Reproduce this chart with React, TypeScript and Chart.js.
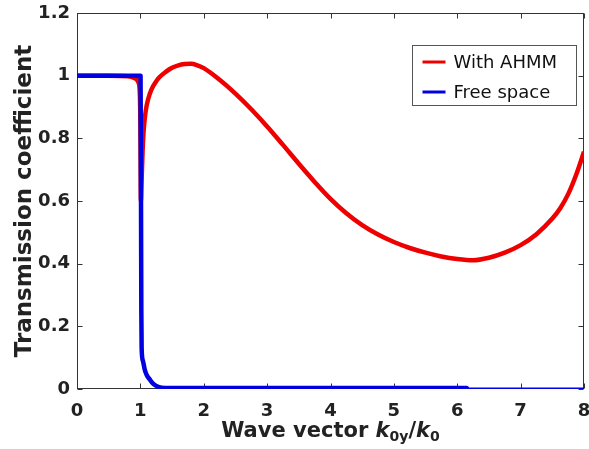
import React, { useEffect, useRef } from 'react';
import { Chart, registerables } from 'chart.js';

Chart.register(...registerables);

// ---- data ----
const seriesLabels = ['With AHMM', 'Free space'];
const seriesColors = ['#ee0000', '#0000e0'];

const kAHMM = [0, 0.5, 0.8, 0.9, 0.95, 0.97, 0.985, 0.993, 0.998, 1.003, 1.008, 1.015, 1.025, 1.035, 1.05, 1.07, 1.1, 1.15, 1.2, 1.25, 1.3, 1.4, 1.5, 1.6, 1.7, 1.8, 1.9, 2.0, 2.25, 2.5, 2.75, 3.0, 3.25, 3.5, 3.75, 4.0, 4.25, 4.5, 4.75, 5.0, 5.25, 5.5, 5.75, 6.0, 6.25, 6.5, 6.75, 7.0, 7.25, 7.5, 7.625, 7.75, 7.875, 8.0];
const tAHMM = [1.0, 1.0, 0.998, 0.993, 0.986, 0.978, 0.965, 0.935, 0.88, 0.75, 0.6, 0.64, 0.7, 0.76, 0.82, 0.865, 0.906, 0.943, 0.966, 0.982, 0.995, 1.012, 1.025, 1.033, 1.037, 1.038, 1.033, 1.024, 0.987, 0.943, 0.893, 0.838, 0.779, 0.719, 0.661, 0.607, 0.561, 0.523, 0.493, 0.469, 0.45, 0.435, 0.423, 0.415, 0.411, 0.419, 0.435, 0.459, 0.494, 0.544, 0.577, 0.622, 0.683, 0.757];

const kFree = [0, 1.003, 1.01, 1.015, 1.02, 1.04, 1.07, 1.1, 1.15, 1.2, 1.28, 1.39, 2.0, 4.0, 6.15, 6.17, 8.0];
const tFree = [1.0, 1.0, 0.6, 0.25, 0.13, 0.09, 0.061, 0.045, 0.03, 0.017, 0.007, 0.003, 0.003, 0.003, 0.003, -0.002, -0.002];

const xTicks = [0, 1, 2, 3, 4, 5, 6, 7, 8];
const yTicks = [0, 0.2, 0.4, 0.6, 0.8, 1, 1.2];
const yTitle = 'Transmission coefficient';

const FONT = '"DejaVu Sans", "Liberation Sans", Arial, sans-serif';

const framePlugin = {
  id: 'frameTicks',
  beforeDatasetsDraw(chart: any) {
    const { ctx, chartArea, scales } = chart;
    const { left, right, top, bottom } = chartArea;
    const L = Math.round(left) + 0.5;
    const R = Math.round(right) - 0.5;
    const T = Math.round(top) + 0.5;
    const B = Math.round(bottom) - 0.5;
    ctx.save();
    ctx.strokeStyle = '#333';
    ctx.lineWidth = 1;
    ctx.strokeRect(L, T, R - L, B - T);
    ctx.beginPath();
    const len = 5;
    xTicks.forEach((v) => {
      const px = Math.round(scales.x.getPixelForValue(v)) + 0.5;
      ctx.moveTo(px, B);
      ctx.lineTo(px, B - len);
      ctx.moveTo(px, T);
      ctx.lineTo(px, T + len);
    });
    yTicks.forEach((v) => {
      const py = Math.round(scales.y.getPixelForValue(v)) + 0.5;
      ctx.moveTo(L, py);
      ctx.lineTo(L + len, py);
      ctx.moveTo(R, py);
      ctx.lineTo(R - len, py);
    });
    ctx.stroke();
    ctx.restore();
  },
};

const legendPlugin = {
  id: 'boxLegend',
  afterDraw(chart: any) {
    const { ctx, chartArea } = chart;
    const w = 164;
    const h = 60;
    const bx = Math.round(chartArea.right - 8 - w) + 0.5;
    const by = Math.round(chartArea.top + 32) + 0.5;
    ctx.save();
    ctx.fillStyle = '#ffffff';
    ctx.fillRect(bx, by, w, h);
    ctx.strokeStyle = '#555';
    ctx.lineWidth = 1;
    ctx.strokeRect(bx, by, w, h);
    ctx.font = '18px ' + FONT;
    ctx.textBaseline = 'middle';
    ctx.textAlign = 'left';
    chart.data.datasets.forEach((ds: any, i: number) => {
      const cy = by + 16.5 + i * 30;
      ctx.strokeStyle = ds.borderColor;
      ctx.lineWidth = 3;
      ctx.beginPath();
      ctx.moveTo(bx + 10, cy);
      ctx.lineTo(bx + 33, cy);
      ctx.stroke();
      ctx.fillStyle = '#111';
      ctx.fillText(ds.label, bx + 41, cy + 1);
    });
    ctx.restore();
  },
};

export default function App() {
  const ref = useRef<HTMLCanvasElement | null>(null);

  useEffect(() => {
    if (!ref.current) return;
    const redPts = kAHMM.map((k, i) => ({ x: k, y: tAHMM[i] }));
    const bluePts = kFree.map((k, i) => ({ x: k, y: tFree[i] }));
    const tickFont = { family: FONT, weight: 'bold' as const, size: 18 };
    const chart = new Chart(ref.current, {
      type: 'line',
      data: {
        datasets: [
          {
            label: seriesLabels[0],
            data: redPts,
            borderColor: seriesColors[0],
            backgroundColor: seriesColors[0],
            borderWidth: 4.5,
            pointRadius: 0,
            cubicInterpolationMode: 'monotone',
            borderJoinStyle: 'round',
            order: 2,
          },
          {
            label: seriesLabels[1],
            data: bluePts,
            borderColor: seriesColors[1],
            backgroundColor: seriesColors[1],
            borderWidth: 4.5,
            pointRadius: 0,
            cubicInterpolationMode: 'monotone',
            borderJoinStyle: 'round',
            order: 1,
          },
        ],
      },
      options: {
        animation: false,
        responsive: false,
        devicePixelRatio: 1,
        layout: { padding: { left: 0, right: 5, top: 13, bottom: 0 } },
        plugins: {
          legend: { display: false },
          tooltip: { enabled: false },
        },
        scales: {
          x: {
            type: 'linear',
            min: 0,
            max: 8,
            afterBuildTicks: (s: any) => {
              s.ticks = xTicks.map((v) => ({ value: v }));
            },
            afterFit: (s: any) => {
              s.height = 60;
              s.paddingLeft = 0;
              s.paddingRight = 0;
            },
            grid: { display: false, drawTicks: false, tickLength: 0 },
            border: { display: false },
            ticks: {
              font: tickFont,
              color: '#222',
              padding: 12,
              maxRotation: 0,
              callback: (v: any) => String(v),
            },
          },
          y: {
            type: 'linear',
            min: 0,
            max: 1.2,
            afterBuildTicks: (s: any) => {
              s.ticks = yTicks.map((v) => ({ value: v }));
            },
            afterFit: (s: any) => {
              s.width = 77;
              s.paddingTop = 0;
              s.paddingBottom = 0;
            },
            grid: { display: false, drawTicks: false, tickLength: 0 },
            border: { display: false },
            ticks: {
              font: tickFont,
              color: '#222',
              padding: 7,
              callback: (v: any) => String(v),
            },
            title: {
              display: true,
              text: yTitle,
              color: '#222',
              font: { family: FONT, weight: 'bold', size: 23 },
              padding: { top: 11, bottom: 0 },
            },
          },
        },
      },
      plugins: [framePlugin, legendPlugin],
    });
    return () => chart.destroy();
  }, []);

  const subStyle: React.CSSProperties = { fontSize: 14, position: 'relative', top: 4 };
  return (
    <div style={{ position: 'absolute', left: 0, top: 0, width: 589, height: 449, background: '#fff', overflow: 'hidden' }}>
      <canvas ref={ref} width={589} height={449} style={{ display: 'block', width: 589, height: 449 }} />
      <div
        style={{
          position: 'absolute',
          left: 77,
          width: 507,
          top: 420,
          textAlign: 'center',
          fontFamily: FONT,
          fontWeight: 'bold',
          fontSize: 21,
          lineHeight: '21px',
          color: '#222',
          whiteSpace: 'nowrap',
        }}
      >
        Wave vector <i>k</i>
        <span style={subStyle}>0y</span>/<i>k</i>
        <span style={subStyle}>0</span>
      </div>
    </div>
  );
}
